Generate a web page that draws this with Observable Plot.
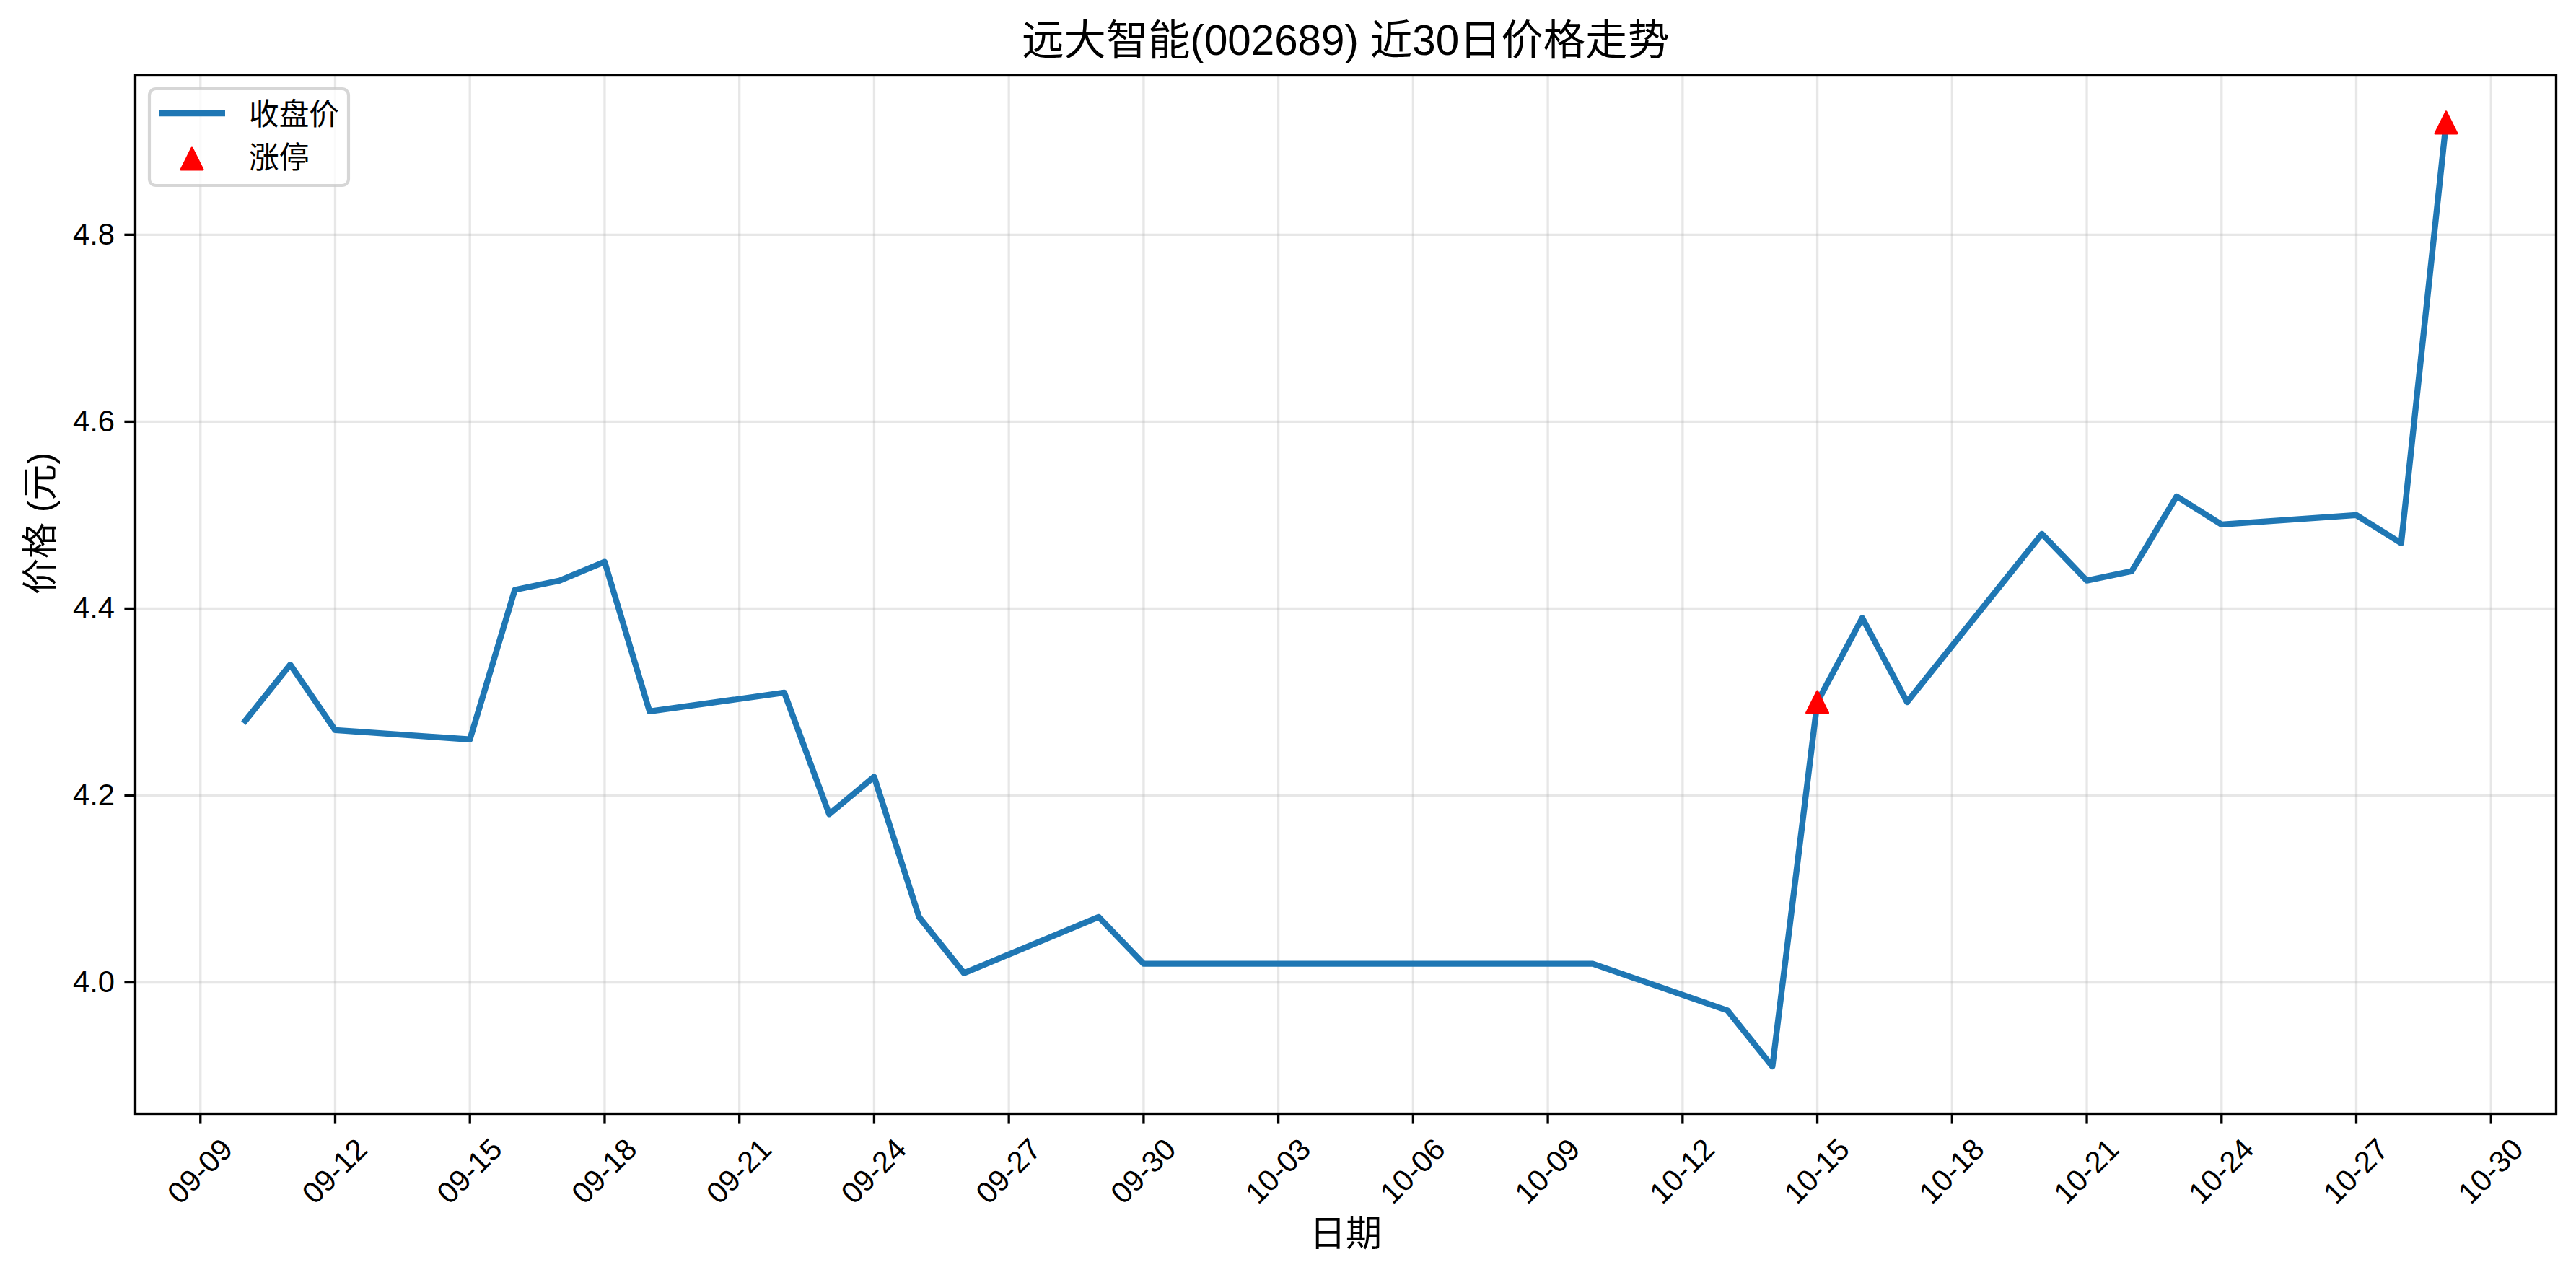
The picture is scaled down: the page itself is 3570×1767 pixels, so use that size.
<!DOCTYPE html>
<html>
<head>
<meta charset="utf-8">
<script src="https://cdn.jsdelivr.net/npm/d3@7"></script>
<script src="https://cdn.jsdelivr.net/npm/@observablehq/plot@0.6"></script>
<style>
  html, body { margin: 0; padding: 0; background: #ffffff; }
  #chart { width: 3570px; height: 1767px; }
</style>
</head>
<body>
<div id="chart"></div>
<script>
// ---- data ----
const dates = [
  "2025-09-10","2025-09-11","2025-09-12","2025-09-15","2025-09-16","2025-09-17","2025-09-18","2025-09-19",
  "2025-09-22","2025-09-23","2025-09-24","2025-09-25","2025-09-26","2025-09-29","2025-09-30",
  "2025-10-09","2025-10-10","2025-10-13","2025-10-14","2025-10-15","2025-10-16","2025-10-17",
  "2025-10-20","2025-10-21","2025-10-22","2025-10-23","2025-10-24","2025-10-27","2025-10-28","2025-10-29"
];
const closes = [
  4.28, 4.34, 4.27, 4.26, 4.42, 4.43, 4.45, 4.29,
  4.31, 4.18, 4.22, 4.07, 4.01, 4.07, 4.02,
  4.02, 4.02, 3.97, 3.91, 4.30, 4.39, 4.30,
  4.48, 4.43, 4.44, 4.52, 4.49, 4.50, 4.47, 4.92
];
const limitUpDates = ["2025-10-15", "2025-10-29"];
const limitUpCloses = [4.30, 4.92];
const xTickLabels = ["09-09","09-12","09-15","09-18","09-21","09-24","09-27","09-30",
  "10-03","10-06","10-09","10-12","10-15","10-18","10-21","10-24","10-27","10-30"];
const yTicks = [4.0, 4.2, 4.4, 4.6, 4.8];
const titleText = "远大智能(002689) 近30日价格走势";
const xLabel = "日期";
const yLabel = "价格 (元)";
const legendLabels = ["收盘价", "涨停"];

// ---- build tables ----
const parse = s => new Date(s + "T00:00:00Z");
const series = dates.map((d, i) => ({date: parse(d), close: closes[i]}));
const limitUps = limitUpDates.map((d, i) => ({date: parse(d), close: limitUpCloses[i]}));
const xTicks = xTickLabels.map(l => parse("2025-" + l));

const t0 = d3.min(series, d => d.date), t1 = d3.max(series, d => d.date);
const tp = (t1 - t0) * 0.05;
const v0 = d3.min(series, d => d.close), v1 = d3.max(series, d => d.close);
const vp = (v1 - v0) * 0.05;

const FONT = "'Liberation Sans', Arial, 'Noto Sans CJK SC', sans-serif";
const LINE_BLUE = "#1f77b4";
const TICK_FS = 41.7, LABEL_FS = 50, TITLE_FS = 58.3;
const SPINE = 3.33;

// matplotlib-like triangle_up (width == height), centred on bbox
const triUp = {
  draw(ctx, size) {
    const a = Math.sqrt(size / Math.PI);
    ctx.moveTo(0, -a);
    ctx.lineTo(a, a);
    ctx.lineTo(-a, a);
    ctx.closePath();
  }
};

const fmtTick = d3.utcFormat("%m-%d");

const plot = Plot.plot({
  width: 3570,
  height: 1767,
  marginLeft: 187,
  marginRight: 28,
  marginTop: 104,
  marginBottom: 224,
  style: {fontFamily: FONT, fontSize: TICK_FS + "px", background: "#ffffff", color: "#000"},
  x: {type: "utc", domain: [new Date(+t0 - tp), new Date(+t1 + tp)]},
  y: {domain: [v0 - vp, v1 + vp]},
  marks: [
    Plot.gridX(xTicks, {stroke: "#b0b0b0", strokeOpacity: 0.3, strokeWidth: 3.3}),
    Plot.gridY(yTicks, {stroke: "#b0b0b0", strokeOpacity: 0.3, strokeWidth: 3.3}),
    Plot.line(series, {x: "date", y: "close", stroke: LINE_BLUE, strokeWidth: 8.33,
      strokeLinejoin: "round", strokeLinecap: "square"}),
    Plot.dot(limitUps, {x: "date", y: "close", symbol: triUp, r: 15, fill: "red",
      stroke: "red", strokeWidth: 3, strokeLinejoin: "round"}),
    Plot.frame({stroke: "#000", strokeWidth: SPINE}),
    Plot.axisY({ticks: yTicks, tickFormat: d3.format(".1f"), tickSize: 14.6, tickPadding: 14,
      fontSize: TICK_FS, strokeWidth: SPINE, label: null}),
    Plot.axisX({ticks: xTicks, tickFormat: () => "", tickSize: 14.6, strokeWidth: SPINE, label: null}),
    Plot.text(xTicks, {x: d => d, frameAnchor: "bottom", dy: 80, rotate: -45,
      text: d => fmtTick(d), fontSize: TICK_FS, textAnchor: "middle", lineAnchor: "middle", fill: "#000"}),
    Plot.text([titleText], {frameAnchor: "top", dy: -47, text: d => d, fontSize: TITLE_FS,
      lineAnchor: "middle", fill: "#000"}),
    Plot.text([xLabel], {frameAnchor: "bottom", dy: 167, text: d => d, fontSize: LABEL_FS,
      lineAnchor: "middle", fill: "#000"}),
    Plot.text([yLabel], {frameAnchor: "left", dx: -131, rotate: -90, text: d => d, fontSize: LABEL_FS,
      lineAnchor: "middle", fill: "#000"})
  ]
});

// ---- legend (upper left, matplotlib style) ----
const svg = d3.select(plot);
const lg = svg.append("g").attr("font-family", FONT).attr("text-anchor", "start");
lg.append("rect")
  .attr("x", 207).attr("y", 123).attr("width", 276).attr("height", 134)
  .attr("rx", 9).attr("ry", 9)
  .attr("fill", "#ffffff").attr("fill-opacity", 0.8)
  .attr("stroke", "#cccccc").attr("stroke-opacity", 0.8).attr("stroke-width", 4.17);
lg.append("line")
  .attr("x1", 220).attr("x2", 312).attr("y1", 157).attr("y2", 157)
  .attr("stroke", LINE_BLUE).attr("stroke-width", 8.33);
lg.append("path")
  .attr("transform", "translate(266,220)")
  .attr("d", "M0,-15L15,15L-15,15Z")
  .attr("fill", "red").attr("stroke", "red").attr("stroke-width", 3).attr("stroke-linejoin", "round");
lg.append("text").attr("x", 345).attr("y", 158).attr("dominant-baseline", "central")
  .attr("text-anchor", "start")
  .attr("font-size", TICK_FS).attr("fill", "#000").text(legendLabels[0]);
lg.append("text").attr("x", 345).attr("y", 218).attr("dominant-baseline", "central")
  .attr("text-anchor", "start")
  .attr("font-size", TICK_FS).attr("fill", "#000").text(legendLabels[1]);

document.getElementById("chart").appendChild(plot);
</script>
</body>
</html>
